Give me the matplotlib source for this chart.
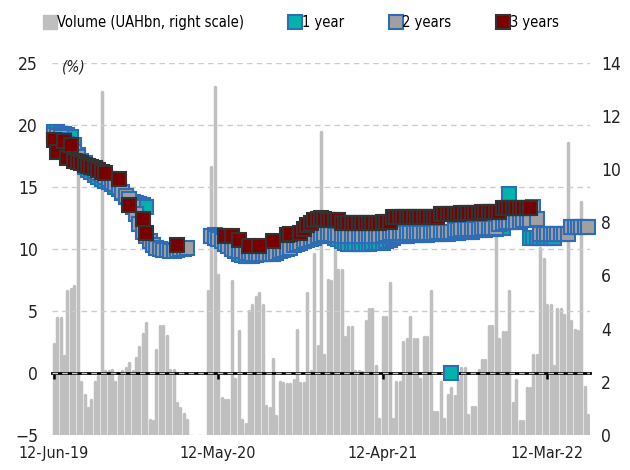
import numpy as np
import matplotlib
matplotlib.use('Agg')
import matplotlib.pyplot as plt
from matplotlib.lines import Line2D
from matplotlib import font_manager

nan = np.nan

# weekly auction dates, labelled every 48 weeks
tick_labels = ['12-Jun-19', '12-May-20', '12-Apr-21', '12-Mar-22']
tick_idx = [0, 48, 96, 144]

# volume, UAHbn (right scale)
volume = [3.4, 4.4, 4.4, 2.95, 5.4, 5.5, 5.6, 10.5, 2.0, 1.5,
          1.0, 1.3, 2.0, 2.2, 12.9, 2.4, 2.4, 2.45, 2.0, 2.2,
          2.4, 2.5, 2.7, 2.4, 2.9, 3.3, 3.8, 4.2, 0.55, 0.5,
          3.2, 4.1, 4.1, 3.7, 2.45, 2.45, 1.2, 1.0, 0.8, 0.55,
          0, 0, 0, 0, 0, 5.4, 10.1, 13.1, 6.0, 1.4,
          1.3, 1.3, 5.8, 2.1, 3.9, 0.55, 0.4, 4.65, 4.9, 5.2,
          5.33, 4.9, 1.1, 1.0, 2.87, 0.7, 2.0, 1.95, 1.9, 1.9,
          2.07, 3.94, 1.95, 1.95, 5.33, 2.4, 6.8, 3.36, 11.4, 3.0,
          5.82, 5.8, 7.42, 6.2, 6.19, 3.68, 4.05, 4.05, 2.4, 2.4,
          2.35, 4.29, 4.72, 4.72, 2.6, 0.6, 4.42, 4.42, 5.7, 0.6,
          2.0, 2.0, 3.5, 3.6, 4.42, 3.6, 3.6, 2.1, 3.68, 3.68,
          5.4, 0.87, 0.87, 2.0, 0.6, 1.5, 1.75, 1.45, 2.07, 2.5,
          2.5, 0.76, 1.05, 1.05, 2.45, 2.8, 2.8, 4.1, 4.1, 7.7,
          3.6, 3.87, 3.87, 5.4, 1.2, 2.07, 0.5, 0.5, 1.75, 1.75,
          3.0, 3.0, 7.05, 6.63, 4.9, 4.9, 2.6, 4.72, 4.72, 4.5,
          10.98, 4.3, 3.93, 3.9, 8.77, 1.8, 0.76]

# yields, %
yield_1y = [19.4, 19.4, 19.3, 19.3, 19.2, 19.0, 18.4, 17.6, 17.0, 16.6,
            16.4, 16.2, 16.0, 15.8, 15.6, 15.5, 15.4, 15.2, 15.0, 14.8,
            14.5, 14.2, 14.0, 13.8, 13.7, 13.6, 13.5, 13.4, nan, nan,
            nan, nan, nan, nan, nan, nan, nan, nan, nan, nan,
            nan, nan, nan, nan, nan, nan, 11.0, 11.1, 11.0, 10.8,
            10.6, 10.3, 10.0, 9.8, 9.6, 9.5, 9.4, 9.4, 9.4, 9.5,
            9.6, 9.6, 9.7, 9.8, 9.9, 10.0, 10.0, 10.1, 10.2, 10.3,
            10.4, 10.5, 10.6, 10.7, 10.8, 10.9, 11.0, 11.0, 11.1, 11.1,
            11.1, 11.0, 10.9, 10.8, 10.6, 10.5, 10.4, 10.4, 10.4, 10.4,
            10.4, 10.4, 10.4, 10.5, 10.5, 10.5, 10.5, 10.6, 10.7, 10.9,
            11.0, 11.0, 11.0, 11.0, 11.1, 11.1, 11.1, 11.1, 11.1, 11.1,
            11.2, 11.2, 11.2, 11.2, 11.2, 11.2, 0.0, 11.3, 11.3, 11.4,
            11.4, 11.4, 11.4, 11.5, 11.5, 11.5, 11.5, 11.6, 11.6, 11.6,
            11.7, 11.7, nan, 14.4, nan, nan, nan, nan, nan, 10.9,
            10.9, 10.9, 10.9, 10.9, 10.9, 10.9, 10.9, nan, nan, nan,
            nan, nan, nan, nan, nan, nan, nan]

yield_2y = [19.2, 19.1, 19.0, 18.8, 18.5, 18.2, 17.8, 17.4, 17.1, 16.9,
            16.7, 16.5, 16.3, 16.1, 16.0, 15.8, 15.6, 15.4, 15.2, 15.0,
            14.6, 14.3, 14.0, 13.4, 12.8, 12.0, 11.4, 11.0, 10.6, 10.3,
            10.1, 10.0, 9.9, 9.9, 9.8, 9.8, 9.9, 10.0, 10.0, 10.1,
            nan, nan, nan, nan, nan, nan, 11.0, 10.9, 10.8, 10.6,
            10.4, 10.2, 10.0, 9.9, 9.8, 9.8, 9.7, 9.7, 9.6, 9.6,
            9.6, 9.6, 9.6, 9.6, 9.6, 9.7, 9.8, 9.9, 10.0, 10.1,
            10.3, 10.4, 10.5, 10.6, 10.7, 10.8, 10.9, 11.0, 11.1, 11.2,
            11.2, 11.2, 11.1, 11.1, 11.0, 11.0, 11.0, 11.0, 11.0, 11.0,
            11.0, 11.0, 11.0, 11.0, 11.0, 11.0, 11.1, 11.2, 11.3, 11.3,
            11.3, 11.3, 11.3, 11.3, 11.3, 11.3, 11.3, 11.3, 11.3, 11.3,
            11.3, 11.3, 11.4, 11.4, 11.4, 11.4, 11.4, 11.5, 11.5, 11.6,
            11.6, 11.6, 11.6, 11.6, 11.6, 11.7, 11.7, 11.7, 11.7, 11.7,
            12.0, 12.1, 12.2, 12.2, 12.2, 12.2, 12.2, 12.3, 12.3, 12.3,
            13.4, 12.4, 11.2, 11.2, 11.2, 11.2, 11.2, 11.2, 11.2, 11.2,
            11.2, 11.8, 11.8, 11.8, 11.8, 11.8, 11.8]

yield_3y = [18.8, 17.8, nan, 18.7, 17.3, 18.4, 17.1, 17.0, 16.9, 16.8,
            16.7, 16.6, 16.5, 16.4, 16.2, 16.1, nan, nan, nan, 15.6,
            nan, nan, 13.5, nan, nan, nan, 12.4, 11.3, nan, nan,
            nan, nan, nan, nan, nan, nan, 10.3, nan, nan, nan,
            nan, nan, nan, nan, nan, nan, nan, nan, nan, nan,
            11.0, nan, 11.0, nan, 10.7, nan, nan, 10.2, nan, nan,
            10.2, nan, nan, nan, 10.6, nan, nan, nan, 11.1, 11.2,
            nan, nan, 11.3, 11.6, 11.9, 12.1, 12.3, 12.4, 12.5, 12.4,
            12.3, 12.3, 12.3, 12.3, 12.1, 12.1, 12.1, 12.1, 12.1, 12.1,
            12.1, 12.1, 12.1, 12.1, 12.1, 12.1, 12.2, 12.2, 12.2, 12.6,
            12.6, 12.6, 12.6, 12.6, 12.6, 12.6, 12.6, 12.6, 12.6, 12.6,
            12.6, 12.6, 12.6, 12.8, 12.8, 12.8, 12.8, 12.8, 12.8, 12.9,
            12.9, 12.9, 12.9, 12.9, 12.9, 13.0, 13.0, 13.0, 13.0, 13.0,
            13.0, 13.3, 13.3, 13.3, 13.3, 13.3, 13.3, 13.3, 13.3, 13.3,
            nan, nan, nan, nan, nan, nan, nan, nan, nan, nan,
            nan, nan, nan, nan, nan, nan, nan]

# narrow face if one is installed, else condensed DejaVu
names = {f.name for f in font_manager.fontManager.ttflist}
if 'Liberation Sans Narrow' in names:
    plt.rcParams['font.family'] = ['Liberation Sans Narrow', 'DejaVu Sans']
else:
    plt.rcParams['font.family'] = ['DejaVu Sans']
    plt.rcParams['font.stretch'] = 'condensed'
plt.rcParams['font.size'] = 12.5

grey = '#bfbfbf'
teal = '#00b4ac'
blue = '#2e6cb4'
mid_grey = '#a0a0a0'
maroon = '#7a0000'
dark_edge = '#333333'

x = np.arange(len(volume))

fig = plt.figure(figsize=(6.3, 4.7), dpi=100)
ax = fig.add_axes([0.0825, 0.075, 0.854, 0.791])
ax2 = ax.twinx()

# volume bars on the right scale, behind the yields
ax2.vlines(x, 0, volume, colors=grey, linewidth=2.5, capstyle='round')
ax2.set_ylim(0, 14)
ax2.set_yticks(range(0, 15, 2))
ax2.tick_params(axis='y', length=0, pad=8, labelcolor='#222222')

ax.set_zorder(ax2.get_zorder() + 1)
ax.patch.set_visible(False)

ax.plot(x, yield_1y, ls='none', marker='s', ms=10.5, mfc=teal, mec=blue,
        mew=1.5, clip_on=False, zorder=3)
ax.plot(x, yield_2y, ls='none', marker='s', ms=10.5, mfc=mid_grey, mec=blue,
        mew=1.5, clip_on=False, zorder=4)
ax.plot(x, yield_3y, ls='none', marker='s', ms=10.5, mfc=maroon, mec=dark_edge,
        mew=1.5, clip_on=False, zorder=5)

ax.set_xlim(-0.5, len(volume) - 0.5)
ax.set_ylim(-5, 25)
ax.set_yticks([-5, 0, 5, 10, 15, 20, 25])
ax.tick_params(axis='y', length=0, pad=10, labelcolor='#222222')
ax.set_xticks(tick_idx, tick_labels)
ax.tick_params(axis='x', length=0, pad=8, labelcolor='#222222', labelsize=11.5)
ax.yaxis.grid(True, color='#cccccc', linestyle=(0, (4, 3)), linewidth=1)
ax.set_axisbelow(True)

for a in (ax, ax2):
    for s in a.spines.values():
        s.set_visible(False)

# zero line with date ticks
zero_ax = ax.secondary_xaxis(1 / 6)
zero_ax.set_xticks(tick_idx, [''] * len(tick_idx))
zero_ax.tick_params(direction='out', length=4, width=1.8, color='black')
zero_ax.spines['bottom'].set_linewidth(2)
zero_ax.spines['bottom'].set_color('black')

ax.text(0.018, 0.99, '(%)', transform=ax.transAxes, style='italic',
        va='center', ha='left', color='#222222', fontsize=11)

handles = [
    Line2D([], [], ls='none', marker='s', ms=10, mfc=grey, mec=grey),
    Line2D([], [], ls='none', marker='s', ms=10, mfc=teal, mec=blue, mew=1.5),
    Line2D([], [], ls='none', marker='s', ms=10, mfc=mid_grey, mec=blue, mew=1.5),
    Line2D([], [], ls='none', marker='s', ms=10, mfc=maroon, mec=dark_edge, mew=1.5),
]
labels = ['Volume (UAHbn, right scale)', '1 year', '2 years', '3 years']
fig.legend(handles, labels, loc='center left', bbox_to_anchor=(0.062, 0.952),
           ncol=4, frameon=False, handlelength=0.7, handletextpad=0.1,
           columnspacing=3.2, borderaxespad=0, fontsize=10.5)

fig.savefig('out.png', dpi=100)
